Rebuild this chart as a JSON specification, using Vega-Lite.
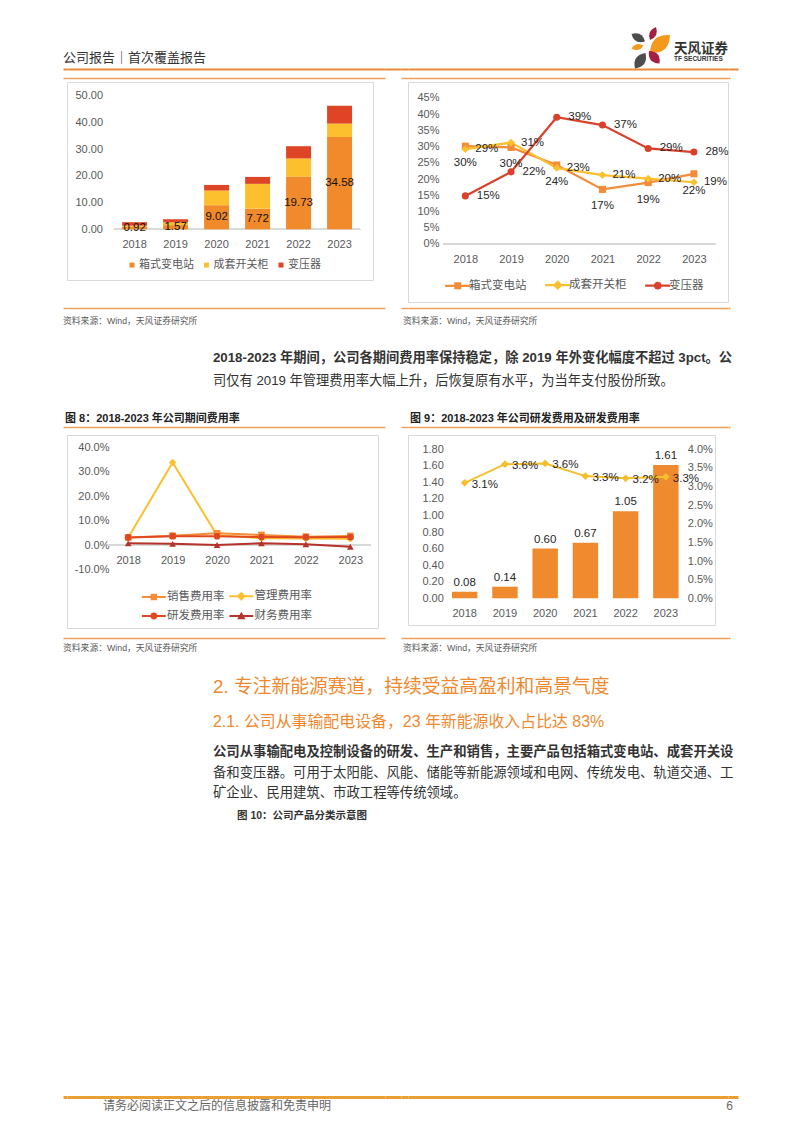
{
"$schema": "https://vega.github.io/schema/vega-lite/v6.json",
"background": "white",
"padding": {"left": 63, "top": 25, "right": 10, "bottom": 10},
"autosize": {"type": "pad"},
"config": {
 "font": "Liberation Sans, Noto Sans CJK SC",
 "locale": {"number": {"decimal": ".", "thousands": ",", "grouping": [3], "currency": ["", ""], "minus": "-"}},
 "view": {"stroke": null},
 "axis": {"grid": false, "ticks": false, "domain": false, "labelOverlap": false, "labelColor": "#595959", "labelFontSize": 11, "labelFont": "Liberation Sans, Noto Sans CJK SC"},
 "legend": {"labelColor": "#595959", "labelFontSize": 11, "labelFont": "Liberation Sans, Noto Sans CJK SC", "padding": 0},
 "title": {"anchor": "start", "frame": "group", "font": "Liberation Sans, Noto Sans CJK SC", "subtitleFont": "Liberation Sans, Noto Sans CJK SC", "color": "#333333", "subtitleColor": "#333333", "fontWeight": "normal", "subtitleFontWeight": "normal", "offset": 0}
},
"datasets": {
 "one": [{}],
 "zero": [{"v": 0}],
 "petals": [{"p": "p1"}, {"p": "p2"}, {"p": "p3"}, {"p": "p4"}, {"p": "p5"}, {"p": "p6"}],
 "c1": [
  {"year": "2018", "type": "箱式变电站", "v": 0.92, "k": 1}, {"year": "2018", "type": "成套开关柜", "v": 0.45, "k": 2}, {"year": "2018", "type": "变压器", "v": 1.3, "k": 3},
  {"year": "2019", "type": "箱式变电站", "v": 1.57, "k": 1}, {"year": "2019", "type": "成套开关柜", "v": 1.0, "k": 2}, {"year": "2019", "type": "变压器", "v": 1.2, "k": 3},
  {"year": "2020", "type": "箱式变电站", "v": 9.02, "k": 1}, {"year": "2020", "type": "成套开关柜", "v": 5.5, "k": 2}, {"year": "2020", "type": "变压器", "v": 2.1, "k": 3},
  {"year": "2021", "type": "箱式变电站", "v": 7.72, "k": 1}, {"year": "2021", "type": "成套开关柜", "v": 9.3, "k": 2}, {"year": "2021", "type": "变压器", "v": 2.6, "k": 3},
  {"year": "2022", "type": "箱式变电站", "v": 19.73, "k": 1}, {"year": "2022", "type": "成套开关柜", "v": 6.8, "k": 2}, {"year": "2022", "type": "变压器", "v": 4.6, "k": 3},
  {"year": "2023", "type": "箱式变电站", "v": 34.58, "k": 1}, {"year": "2023", "type": "成套开关柜", "v": 5.0, "k": 2}, {"year": "2023", "type": "变压器", "v": 6.7, "k": 3}
 ],
 "c2": [
  {"year": "2018", "s": "箱式变电站", "v": 0.301}, {"year": "2019", "s": "箱式变电站", "v": 0.297}, {"year": "2020", "s": "箱式变电站", "v": 0.243}, {"year": "2021", "s": "箱式变电站", "v": 0.168}, {"year": "2022", "s": "箱式变电站", "v": 0.189}, {"year": "2023", "s": "箱式变电站", "v": 0.216},
  {"year": "2018", "s": "成套开关柜", "v": 0.292}, {"year": "2019", "s": "成套开关柜", "v": 0.312}, {"year": "2020", "s": "成套开关柜", "v": 0.234}, {"year": "2021", "s": "成套开关柜", "v": 0.212}, {"year": "2022", "s": "成套开关柜", "v": 0.201}, {"year": "2023", "s": "成套开关柜", "v": 0.19},
  {"year": "2018", "s": "变压器", "v": 0.148}, {"year": "2019", "s": "变压器", "v": 0.222}, {"year": "2020", "s": "变压器", "v": 0.39}, {"year": "2021", "s": "变压器", "v": 0.366}, {"year": "2022", "s": "变压器", "v": 0.294}, {"year": "2023", "s": "变压器", "v": 0.283}
 ],
 "c3": [
  {"year": "2018", "s": "销售费用率", "v": 0.031}, {"year": "2019", "s": "销售费用率", "v": 0.038}, {"year": "2020", "s": "销售费用率", "v": 0.048}, {"year": "2021", "s": "销售费用率", "v": 0.041}, {"year": "2022", "s": "销售费用率", "v": 0.034}, {"year": "2023", "s": "销售费用率", "v": 0.037},
  {"year": "2018", "s": "管理费用率", "v": 0.030}, {"year": "2019", "s": "管理费用率", "v": 0.338}, {"year": "2020", "s": "管理费用率", "v": 0.040}, {"year": "2021", "s": "管理费用率", "v": 0.028}, {"year": "2022", "s": "管理费用率", "v": 0.027}, {"year": "2023", "s": "管理费用率", "v": 0.026},
  {"year": "2018", "s": "研发费用率", "v": 0.031}, {"year": "2019", "s": "研发费用率", "v": 0.036}, {"year": "2020", "s": "研发费用率", "v": 0.0362}, {"year": "2021", "s": "研发费用率", "v": 0.0328}, {"year": "2022", "s": "研发费用率", "v": 0.0322}, {"year": "2023", "s": "研发费用率", "v": 0.0326},
  {"year": "2018", "s": "财务费用率", "v": 0.007}, {"year": "2019", "s": "财务费用率", "v": 0.005}, {"year": "2020", "s": "财务费用率", "v": 0.0}, {"year": "2021", "s": "财务费用率", "v": 0.007}, {"year": "2022", "s": "财务费用率", "v": 0.003}, {"year": "2023", "s": "财务费用率", "v": -0.007}
 ],
 "c4": [
  {"year": "2018", "amt": 0.08, "rate": 0.031}, {"year": "2019", "amt": 0.14, "rate": 0.036}, {"year": "2020", "amt": 0.60, "rate": 0.0362},
  {"year": "2021", "amt": 0.67, "rate": 0.0328}, {"year": "2022", "amt": 1.05, "rate": 0.0322}, {"year": "2023", "amt": 1.61, "rate": 0.0326}
 ]
},
"columns": 6,
"spacing": 0,
"bounds": "flush",
"align": "each",
"resolve": {"scale": {"color": "independent", "shape": "independent", "size": "independent"}, "legend": {"color": "independent", "shape": "independent", "size": "independent"}},
"concat": [
 {"width": 4, "height": 44, "data": {"name": "zero"}, "mark": {"type": "point", "size": 0, "opacity": 0, "filled": true, "strokeWidth": 0},
  "encoding": {"x": {"field": "v", "type": "quantitative", "scale": {"domain": [0, 1]}, "axis": {"orient": "bottom", "domain": true, "domainColor": "#E9893A", "domainWidth": 2, "labels": false, "ticks": false, "grid": false, "title": null}}},
  "title": {"text": "公司报告｜首次覆盖报告", "fontSize": 13, "color": "#333333", "offset": -39.7}},
 {"width": 318, "height": 44, "data": {"name": "zero"}, "mark": {"type": "point", "size": 0, "opacity": 0, "filled": true, "strokeWidth": 0},
  "encoding": {"x": {"field": "v", "type": "quantitative", "scale": {"domain": [0, 1]}, "axis": {"orient": "bottom", "domain": true, "domainColor": "#E9893A", "domainWidth": 2, "labels": false, "ticks": false, "grid": false, "title": null}}}},
 {"width": 16, "height": 44, "data": {"name": "zero"}, "mark": {"type": "point", "size": 0, "opacity": 0, "filled": true, "strokeWidth": 0},
  "encoding": {"x": {"field": "v", "type": "quantitative", "scale": {"domain": [0, 1]}, "axis": {"orient": "bottom", "domain": true, "domainColor": "#E9893A", "domainWidth": 2, "labels": false, "ticks": false, "grid": false, "title": null}}}},
 {"width": 7, "height": 44, "data": {"name": "zero"}, "mark": {"type": "point", "size": 0, "opacity": 0, "filled": true, "strokeWidth": 0},
  "encoding": {"x": {"field": "v", "type": "quantitative", "scale": {"domain": [0, 1]}, "axis": {"orient": "bottom", "domain": true, "domainColor": "#E9893A", "domainWidth": 2, "labels": false, "ticks": false, "grid": false, "title": null}}}},
 {"width": 320, "height": 44,
  "title": {"text": "天风证券", "subtitle": "TF SECURITIES", "fontSize": 13.5, "fontWeight": "bold", "color": "#333333", "subtitleFontSize": 6.5, "subtitleFontWeight": "bold", "subtitleColor": "#333333", "subtitlePadding": 1.4, "offset": -37.9, "dx": 266},
  "layer": [
  {"data": {"name": "zero"}, "mark": {"type": "point", "size": 0, "opacity": 0, "filled": true, "strokeWidth": 0},
   "encoding": {"x": {"field": "v", "type": "quantitative", "scale": {"domain": [0, 1]}, "axis": {"orient": "bottom", "domain": true, "domainColor": "#E9893A", "domainWidth": 2, "labels": false, "ticks": false, "grid": false, "title": null}}}},
  {"data": {"name": "petals"}, "mark": {"type": "point", "filled": true, "opacity": 1, "size": 1764, "strokeWidth": 0, "xOffset": 83},
   "encoding": {
    "shape": {"field": "p", "type": "nominal", "legend": null, "scale": {"domain": ["p1", "p2", "p3", "p4", "p5", "p6"], "range": [
     "M-0.048,-0.333Q0.398,-0.503 0.238,-0.952Q-0.208,-0.782 -0.048,-0.333Z",
     "M-0.929,-0.619Q-0.792,-0.108 -0.286,-0.262Q-0.422,-0.773 -0.929,-0.619Z",
     "M-0.048,0.286Q0.875,0.352 0.905,-0.571Q-0.018,-0.638 -0.048,0.286Z",
     "M-0.929,0.071Q-0.573,0.277 -0.357,-0.071Q-0.712,-0.277 -0.929,0.071Z",
     "M-0.095,0.19Q-0.173,0.764 0.405,0.786Q0.483,0.212 -0.095,0.19Z",
     "M-0.262,0.286Q-0.906,0.388 -0.762,1.024Q-0.118,0.922 -0.262,0.286Z"]}},
    "color": {"field": "p", "type": "nominal", "legend": null, "scale": {"domain": ["p1", "p2", "p3", "p4", "p5", "p6"], "range": ["#A61E44", "#4D4D4F", "#F39A1E", "#F39A1E", "#A61E44", "#4D4D4F"]}}
   }}
 ]},
 {"width": 10, "height": 44, "data": {"name": "zero"}, "mark": {"type": "point", "size": 0, "opacity": 0, "filled": true, "strokeWidth": 0},
  "encoding": {"x": {"field": "v", "type": "quantitative", "scale": {"domain": [0, 1]}, "axis": {"orient": "bottom", "domain": true, "domainColor": "#E9893A", "domainWidth": 2, "labels": false, "ticks": false, "grid": false, "title": null}}}},

 {"width": 1, "height": 9, "data": {"name": "one"}, "mark": {"type": "point", "size": 0, "opacity": 0, "filled": true, "strokeWidth": 0}},
 {"width": 1, "height": 1, "data": {"name": "one"}, "mark": {"type": "point", "size": 0, "opacity": 0, "filled": true, "strokeWidth": 0}},
 {"width": 1, "height": 1, "data": {"name": "one"}, "mark": {"type": "point", "size": 0, "opacity": 0, "filled": true, "strokeWidth": 0}},
 {"width": 1, "height": 1, "data": {"name": "one"}, "mark": {"type": "point", "size": 0, "opacity": 0, "filled": true, "strokeWidth": 0}},
 {"width": 1, "height": 1, "data": {"name": "one"}, "mark": {"type": "point", "size": 0, "opacity": 0, "filled": true, "strokeWidth": 0}},
 {"width": 1, "height": 1, "data": {"name": "one"}, "mark": {"type": "point", "size": 0, "opacity": 0, "filled": true, "strokeWidth": 0}},

 {"width": 4, "height": 4, "data": {"name": "zero"}, "mark": {"type": "point", "size": 0, "opacity": 0, "filled": true, "strokeWidth": 0},
  "encoding": {"x": {"field": "v", "type": "quantitative", "scale": {"domain": [0, 1]}, "axis": {"orient": "top", "domain": true, "domainColor": "#F0A05A", "domainWidth": 1.5, "labels": false, "ticks": false, "grid": false, "title": null}}}},
 {"width": 318, "height": 4, "data": {"name": "zero"}, "mark": {"type": "point", "size": 0, "opacity": 0, "filled": true, "strokeWidth": 0},
  "encoding": {"x": {"field": "v", "type": "quantitative", "scale": {"domain": [0, 1]}, "axis": {"orient": "top", "domain": true, "domainColor": "#F0A05A", "domainWidth": 1.5, "labels": false, "ticks": false, "grid": false, "title": null}}}},
 {"width": 1, "height": 1, "data": {"name": "one"}, "mark": {"type": "point", "size": 0, "opacity": 0, "filled": true, "strokeWidth": 0}},
 {"width": 7, "height": 4, "data": {"name": "zero"}, "mark": {"type": "point", "size": 0, "opacity": 0, "filled": true, "strokeWidth": 0},
  "encoding": {"x": {"field": "v", "type": "quantitative", "scale": {"domain": [0, 1]}, "axis": {"orient": "top", "domain": true, "domainColor": "#F0A05A", "domainWidth": 1.5, "labels": false, "ticks": false, "grid": false, "title": null}}}},
 {"width": 320, "height": 4, "data": {"name": "zero"}, "mark": {"type": "point", "size": 0, "opacity": 0, "filled": true, "strokeWidth": 0},
  "encoding": {"x": {"field": "v", "type": "quantitative", "scale": {"domain": [0, 1]}, "axis": {"orient": "top", "domain": true, "domainColor": "#F0A05A", "domainWidth": 1.5, "labels": false, "ticks": false, "grid": false, "title": null}}}},
 {"width": 2, "height": 4, "data": {"name": "zero"}, "mark": {"type": "point", "size": 0, "opacity": 0, "filled": true, "strokeWidth": 0},
  "encoding": {"x": {"field": "v", "type": "quantitative", "scale": {"domain": [0, 1]}, "axis": {"orient": "top", "domain": true, "domainColor": "#F0A05A", "domainWidth": 1.5, "labels": false, "ticks": false, "grid": false, "title": null}}}},

 {"width": 1, "height": 1, "data": {"name": "one"}, "mark": {"type": "point", "size": 0, "opacity": 0, "filled": true, "strokeWidth": 0}},
 {"width": 306, "height": 198, "view": {"stroke": "#D9D9D9", "strokeWidth": 1}, "data": {"name": "c1"},
  "layer": [
   {"mark": {"type": "rule", "color": "#D9D9D9", "strokeWidth": 1, "xOffset": -20.5, "x2Offset": 20.5},
    "encoding": {
     "x": {"datum": "2018", "type": "ordinal", "title": null, "axis": {"orient": "bottom", "offset": -50.7, "labelPadding": 9, "labelAngle": 0, "title": null}},
     "x2": {"datum": "2023"},
     "y": {"datum": 0, "type": "quantitative", "title": null, "axis": {"values": [0, 10, 20, 30, 40, 50], "format": ".2f", "offset": -38.5, "labelPadding": 3, "title": null}}}},
   {"mark": {"type": "bar"},
    "encoding": {
     "x": {"field": "year", "type": "ordinal", "title": null, "scale": {"type": "band", "paddingInner": 0.39, "paddingOuter": 0.927, "align": 0.725}, "axis": {"orient": "bottom", "offset": -50.7, "labelPadding": 9, "labelAngle": 0, "title": null}},
     "y": {"field": "v", "type": "quantitative", "stack": "zero", "title": null, "scale": {"domain": [-18.99, 55.17], "nice": false, "zero": false}, "axis": {"values": [0, 10, 20, 30, 40, 50], "format": ".2f", "offset": -38.5, "labelPadding": 3, "title": null}},
     "color": {"field": "type", "type": "nominal", "scale": {"domain": ["箱式变电站", "成套开关柜", "变压器"], "range": ["#F08A2B", "#FCC02F", "#DD4526"]},
      "legend": {"title": null, "orient": "none", "legendX": 59.5, "legendY": 177.3, "direction": "horizontal", "symbolType": "square", "symbolSize": 25, "labelOffset": 1.6, "columnPadding": 6.5, "labelFontSize": 11}},
     "order": {"field": "k", "type": "quantitative"}
    }},
   {"transform": [{"filter": "datum.type === '箱式变电站'"}],
    "mark": {"type": "text", "fontSize": 11.5, "color": "#111111"},
    "encoding": {
     "x": {"field": "year", "type": "ordinal", "title": null, "axis": {"orient": "bottom", "offset": -50.7, "labelPadding": 9, "labelAngle": 0, "title": null}},
     "y": {"field": "v", "type": "quantitative", "stack": "zero", "bandPosition": 0.5, "title": null, "axis": {"values": [0, 10, 20, 30, 40, 50], "format": ".2f", "offset": -38.5, "labelPadding": 3, "title": null}},
     "detail": {"field": "type", "type": "nominal"},
     "text": {"field": "v", "type": "quantitative", "format": ".2f"}
    }}
  ]},
 {"width": 1, "height": 1, "data": {"name": "one"}, "mark": {"type": "point", "size": 0, "opacity": 0, "filled": true, "strokeWidth": 0}},
 {"width": 1, "height": 1, "data": {"name": "one"}, "mark": {"type": "point", "size": 0, "opacity": 0, "filled": true, "strokeWidth": 0}},
 {"width": 320, "height": 220, "view": {"stroke": "#D9D9D9", "strokeWidth": 1}, "data": {"name": "c2"},
  "encoding": {
   "x": {"field": "year", "type": "ordinal", "title": null, "scale": {"type": "point", "padding": 1.1364, "align": 0.627}, "axis": {"offset": -58, "labelPadding": 9, "labelAngle": 0, "title": null}},
   "y": {"field": "v", "type": "quantitative", "title": null, "scale": {"domain": [-0.1785, 0.4985], "nice": false, "zero": false}, "axis": {"values": [0, 0.05, 0.1, 0.15, 0.2, 0.25, 0.3, 0.35, 0.4, 0.45], "format": ".0%", "offset": -34, "labelPadding": 3, "title": null}}
  },
  "layer": [
   {"mark": {"type": "rule", "color": "#D9D9D9", "strokeWidth": 1, "xOffset": -22, "x2Offset": 22},
    "encoding": {"x": {"datum": "2018", "type": "ordinal", "title": null}, "x2": {"datum": "2023"}, "y": {"datum": 0, "type": "quantitative", "title": null}}},
   {"transform": [{"filter": "datum.s === '箱式变电站'"}], "mark": {"type": "line", "color": "#F28C38", "strokeWidth": 2.25}},
   {"transform": [{"filter": "datum.s === '成套开关柜'"}], "mark": {"type": "line", "color": "#FBC02D", "strokeWidth": 2.25}},
   {"transform": [{"filter": "datum.s === '变压器'"}], "mark": {"type": "line", "color": "#D9412B", "strokeWidth": 2.25}},
   {"transform": [{"filter": "datum.s === '箱式变电站'"}], "mark": {"type": "point", "shape": "square", "filled": true, "color": "#F28C38", "size": 50, "opacity": 1}},
   {"transform": [{"filter": "datum.s === '成套开关柜'"}], "mark": {"type": "point", "shape": "diamond", "filled": true, "color": "#FBC02D", "size": 60, "opacity": 1}},
   {"transform": [{"filter": "datum.s === '变压器'"}], "mark": {"type": "point", "shape": "circle", "filled": true, "color": "#D9412B", "size": 50, "opacity": 1}},
   {"mark": {"type": "point", "filled": true, "opacity": 0},
    "encoding": {
     "color": {"field": "s", "type": "nominal", "scale": {"domain": ["箱式变电站", "成套开关柜", "变压器"], "range": ["#F28C38", "#FBC02D", "#D9412B"]},
      "legend": {"title": null, "orient": "none", "legendX": 44, "legendY": 197.2, "direction": "horizontal", "symbolSize": 49, "symbolOpacity": 1, "labelOffset": 5.5, "columnPadding": 15, "labelFontSize": 11.5}},
     "shape": {"field": "s", "type": "nominal", "scale": {"domain": ["箱式变电站", "成套开关柜", "变压器"], "range": [
       "M-3.6,-0.3H3.6V0.3H-3.6ZM-1,-1H1V1H-1Z",
       "M-3.6,-0.3H3.6V0.3H-3.6ZM0,-1.4L1.4,0L0,1.4L-1.4,0Z",
       "M-3.6,-0.3H3.6V0.3H-3.6ZM-1.1,0C-1.1,-1.47 1.1,-1.47 1.1,0C1.1,1.47 -1.1,1.47 -1.1,0Z"]},
      "legend": {"title": null, "orient": "none", "legendX": 44, "legendY": 197.2, "direction": "horizontal", "symbolSize": 49, "symbolOpacity": 1, "labelOffset": 5.5, "columnPadding": 15, "labelFontSize": 11.5}}
    }},
   {"transform": [{"filter": "datum.s === '箱式变电站'"}], "mark": {"type": "text", "dy": 17, "fontSize": 11.5, "color": "#262626"}, "encoding": {"text": {"field": "v", "type": "quantitative", "format": ".0%"}}},
   {"transform": [{"filter": "datum.s === '成套开关柜'"}], "mark": {"type": "text", "align": "left", "dx": 10, "fontSize": 11.5, "color": "#262626"}, "encoding": {"text": {"field": "v", "type": "quantitative", "format": ".0%"}}},
   {"transform": [{"filter": "datum.s === '变压器'"}], "mark": {"type": "text", "align": "left", "dx": 11.5, "fontSize": 11.5, "color": "#262626"}, "encoding": {"text": {"field": "v", "type": "quantitative", "format": ".0%"}}}
  ]},
 {"width": 1, "height": 1, "data": {"name": "one"}, "mark": {"type": "point", "size": 0, "opacity": 0, "filled": true, "strokeWidth": 0}},

 {"width": 4, "height": 6, "data": {"name": "zero"}, "mark": {"type": "point", "size": 0, "opacity": 0, "filled": true, "strokeWidth": 0},
  "encoding": {"x": {"field": "v", "type": "quantitative", "scale": {"domain": [0, 1]}, "axis": {"orient": "bottom", "domain": true, "domainColor": "#F0A05A", "domainWidth": 1.5, "labels": false, "ticks": false, "grid": false, "title": null}}},
  "title": {"text": "资料来源：Wind，天风证券研究所", "orient": "bottom", "fontSize": 8.8, "color": "#595959", "offset": 8.6}},
 {"width": 318, "height": 6, "data": {"name": "zero"}, "mark": {"type": "point", "size": 0, "opacity": 0, "filled": true, "strokeWidth": 0},
  "encoding": {"x": {"field": "v", "type": "quantitative", "scale": {"domain": [0, 1]}, "axis": {"orient": "bottom", "domain": true, "domainColor": "#F0A05A", "domainWidth": 1.5, "labels": false, "ticks": false, "grid": false, "title": null}}}},
 {"width": 1, "height": 1, "data": {"name": "one"}, "mark": {"type": "point", "size": 0, "opacity": 0, "filled": true, "strokeWidth": 0}},
 {"width": 7, "height": 6, "data": {"name": "zero"}, "mark": {"type": "point", "size": 0, "opacity": 0, "filled": true, "strokeWidth": 0},
  "encoding": {"x": {"field": "v", "type": "quantitative", "scale": {"domain": [0, 1]}, "axis": {"orient": "bottom", "domain": true, "domainColor": "#F0A05A", "domainWidth": 1.5, "labels": false, "ticks": false, "grid": false, "title": null}}},
  "title": {"text": "资料来源：Wind，天风证券研究所", "orient": "bottom", "fontSize": 8.8, "color": "#595959", "offset": 8.6, "dx": 2}},
 {"width": 320, "height": 6, "data": {"name": "zero"}, "mark": {"type": "point", "size": 0, "opacity": 0, "filled": true, "strokeWidth": 0},
  "encoding": {"x": {"field": "v", "type": "quantitative", "scale": {"domain": [0, 1]}, "axis": {"orient": "bottom", "domain": true, "domainColor": "#F0A05A", "domainWidth": 1.5, "labels": false, "ticks": false, "grid": false, "title": null}}}},
 {"width": 2, "height": 6, "data": {"name": "zero"}, "mark": {"type": "point", "size": 0, "opacity": 0, "filled": true, "strokeWidth": 0},
  "encoding": {"x": {"field": "v", "type": "quantitative", "scale": {"domain": [0, 1]}, "axis": {"orient": "bottom", "domain": true, "domainColor": "#F0A05A", "domainWidth": 1.5, "labels": false, "ticks": false, "grid": false, "title": null}}}},

 {"width": 1, "height": 84, "data": {"name": "one"}, "mark": {"type": "point", "size": 0, "opacity": 0, "filled": true, "strokeWidth": 0}},
 {"width": 1, "height": 1, "data": {"name": "one"}, "mark": {"type": "point", "size": 0, "opacity": 0, "filled": true, "strokeWidth": 0}},
 {"width": 1, "height": 1, "data": {"name": "one"}, "mark": {"type": "point", "size": 0, "opacity": 0, "filled": true, "strokeWidth": 0}},
 {"width": 1, "height": 1, "data": {"name": "one"}, "mark": {"type": "point", "size": 0, "opacity": 0, "filled": true, "strokeWidth": 0}},
 {"width": 1, "height": 1, "data": {"name": "one"}, "mark": {"type": "point", "size": 0, "opacity": 0, "filled": true, "strokeWidth": 0}},
 {"width": 1, "height": 1, "data": {"name": "one"}, "mark": {"type": "point", "size": 0, "opacity": 0, "filled": true, "strokeWidth": 0}},

 {"width": 1, "height": 35, "data": {"name": "one"}, "mark": {"type": "point", "size": 0, "opacity": 0, "filled": true, "strokeWidth": 0},
  "title": {"text": "2018-2023 年期间，公司各期间费用率保持稳定，除 2019 年外变化幅度不超过 3pct。公", "fontWeight": "bold", "fontSize": 13.25, "color": "#333333",
   "subtitle": "司仅有 2019 年管理费用率大幅上升，后恢复原有水平，为当年支付股份所致。", "subtitleFontSize": 13.25, "subtitleColor": "#333333", "subtitlePadding": 9.25, "offset": 4.18, "dx": 150}},
 {"width": 1, "height": 1, "data": {"name": "one"}, "mark": {"type": "point", "size": 0, "opacity": 0, "filled": true, "strokeWidth": 0}},
 {"width": 1, "height": 1, "data": {"name": "one"}, "mark": {"type": "point", "size": 0, "opacity": 0, "filled": true, "strokeWidth": 0}},
 {"width": 1, "height": 1, "data": {"name": "one"}, "mark": {"type": "point", "size": 0, "opacity": 0, "filled": true, "strokeWidth": 0}},
 {"width": 1, "height": 1, "data": {"name": "one"}, "mark": {"type": "point", "size": 0, "opacity": 0, "filled": true, "strokeWidth": 0}},
 {"width": 1, "height": 1, "data": {"name": "one"}, "mark": {"type": "point", "size": 0, "opacity": 0, "filled": true, "strokeWidth": 0}},

 {"width": 4, "height": 8, "data": {"name": "zero"}, "mark": {"type": "point", "size": 0, "opacity": 0, "filled": true, "strokeWidth": 0},
  "encoding": {"x": {"field": "v", "type": "quantitative", "scale": {"domain": [0, 1]}, "axis": {"orient": "top", "domain": true, "domainColor": "#F0A05A", "domainWidth": 1.5, "labels": false, "ticks": false, "grid": false, "title": null}}},
  "title": {"text": "图 8：2018-2023 年公司期间费用率", "fontSize": 11, "fontWeight": "bold", "color": "#222222", "offset": 3.05, "dx": 2}},
 {"width": 318, "height": 8, "data": {"name": "zero"}, "mark": {"type": "point", "size": 0, "opacity": 0, "filled": true, "strokeWidth": 0},
  "encoding": {"x": {"field": "v", "type": "quantitative", "scale": {"domain": [0, 1]}, "axis": {"orient": "top", "domain": true, "domainColor": "#F0A05A", "domainWidth": 1.5, "labels": false, "ticks": false, "grid": false, "title": null}}}},
 {"width": 1, "height": 1, "data": {"name": "one"}, "mark": {"type": "point", "size": 0, "opacity": 0, "filled": true, "strokeWidth": 0}},
 {"width": 7, "height": 8, "data": {"name": "zero"}, "mark": {"type": "point", "size": 0, "opacity": 0, "filled": true, "strokeWidth": 0},
  "encoding": {"x": {"field": "v", "type": "quantitative", "scale": {"domain": [0, 1]}, "axis": {"orient": "top", "domain": true, "domainColor": "#F0A05A", "domainWidth": 1.5, "labels": false, "ticks": false, "grid": false, "title": null}}},
  "title": {"text": "图 9：2018-2023 年公司研发费用及研发费用率", "fontSize": 11, "fontWeight": "bold", "color": "#222222", "offset": 3.05, "dx": 9}},
 {"width": 320, "height": 8, "data": {"name": "zero"}, "mark": {"type": "point", "size": 0, "opacity": 0, "filled": true, "strokeWidth": 0},
  "encoding": {"x": {"field": "v", "type": "quantitative", "scale": {"domain": [0, 1]}, "axis": {"orient": "top", "domain": true, "domainColor": "#F0A05A", "domainWidth": 1.5, "labels": false, "ticks": false, "grid": false, "title": null}}}},
 {"width": 2, "height": 8, "data": {"name": "zero"}, "mark": {"type": "point", "size": 0, "opacity": 0, "filled": true, "strokeWidth": 0},
  "encoding": {"x": {"field": "v", "type": "quantitative", "scale": {"domain": [0, 1]}, "axis": {"orient": "top", "domain": true, "domainColor": "#F0A05A", "domainWidth": 1.5, "labels": false, "ticks": false, "grid": false, "title": null}}}},

 {"width": 1, "height": 1, "data": {"name": "one"}, "mark": {"type": "point", "size": 0, "opacity": 0, "filled": true, "strokeWidth": 0}},
 {"width": 311, "height": 193, "view": {"stroke": "#D9D9D9", "strokeWidth": 1}, "data": {"name": "c3"},
  "encoding": {
   "x": {"field": "year", "type": "ordinal", "title": null, "scale": {"type": "point", "padding": 1.2927, "align": 0.6887}, "axis": {"offset": -83, "labelPadding": 9.3, "labelAngle": 0, "title": null}},
   "y": {"field": "v", "type": "quantitative", "title": null, "scale": {"domain": [-0.3397, 0.4503], "nice": false, "zero": false}, "axis": {"values": [-0.1, 0, 0.1, 0.2, 0.3, 0.4], "format": ".1%", "offset": -45, "labelPadding": 3, "title": null}}
  },
  "layer": [
   {"mark": {"type": "rule", "color": "#D9D9D9", "strokeWidth": 1, "xOffset": -20.5, "x2Offset": 20.5},
    "encoding": {"x": {"datum": "2018", "type": "ordinal", "title": null}, "x2": {"datum": "2023"}, "y": {"datum": 0, "type": "quantitative", "title": null}}},
   {"transform": [{"filter": "datum.s === '销售费用率'"}], "mark": {"type": "line", "color": "#F28C38", "strokeWidth": 2}},
   {"transform": [{"filter": "datum.s === '管理费用率'"}], "mark": {"type": "line", "color": "#FBC02D", "strokeWidth": 2}},
   {"transform": [{"filter": "datum.s === '研发费用率'"}], "mark": {"type": "line", "color": "#E0481F", "strokeWidth": 2}},
   {"transform": [{"filter": "datum.s === '财务费用率'"}], "mark": {"type": "line", "color": "#B5332A", "strokeWidth": 2}},
   {"transform": [{"filter": "datum.s === '销售费用率'"}], "mark": {"type": "point", "shape": "square", "filled": true, "color": "#F28C38", "size": 45, "opacity": 1}},
   {"transform": [{"filter": "datum.s === '管理费用率'"}], "mark": {"type": "point", "shape": "diamond", "filled": true, "color": "#FBC02D", "size": 55, "opacity": 1}},
   {"transform": [{"filter": "datum.s === '研发费用率'"}], "mark": {"type": "point", "shape": "circle", "filled": true, "color": "#E0481F", "size": 45, "opacity": 1}},
   {"transform": [{"filter": "datum.s === '财务费用率'"}], "mark": {"type": "point", "shape": "triangle-up", "filled": true, "color": "#B5332A", "size": 45, "opacity": 1}},
   {"mark": {"type": "point", "filled": true, "opacity": 0},
    "encoding": {
     "color": {"field": "s", "type": "nominal", "scale": {"domain": ["销售费用率", "管理费用率", "研发费用率", "财务费用率"], "range": ["#F28C38", "#FBC02D", "#E0481F", "#B5332A"]},
      "legend": {"title": null, "orient": "none", "legendX": 81.1, "legendY": 155.2, "direction": "horizontal", "columns": 2, "rowPadding": 4.1, "symbolSize": 49, "symbolOpacity": 1, "labelOffset": 7.4, "columnPadding": 0.5, "labelFontSize": 11.5}},
     "shape": {"field": "s", "type": "nominal", "scale": {"domain": ["销售费用率", "管理费用率", "研发费用率", "财务费用率"], "range": [
       "M-3.4,-0.3H3.4V0.3H-3.4ZM-0.9,-0.9H0.9V0.9H-0.9Z",
       "M-3.4,-0.3H3.4V0.3H-3.4ZM0,-1.3L1.3,0L0,1.3L-1.3,0Z",
       "M-3.4,-0.3H3.4V0.3H-3.4ZM-1,0C-1,-1.33 1,-1.33 1,0C1,1.33 -1,1.33 -1,0Z",
       "M-3.4,-0.3H3.4V0.3H-3.4ZM0,-1.2L1.2,0.9L-1.2,0.9Z"]},
      "legend": {"title": null, "orient": "none", "legendX": 81.1, "legendY": 155.2, "direction": "horizontal", "columns": 2, "rowPadding": 4.1, "symbolSize": 49, "symbolOpacity": 1, "labelOffset": 7.4, "columnPadding": 0.5, "labelFontSize": 11.5}}
    }}
  ]},
 {"width": 1, "height": 1, "data": {"name": "one"}, "mark": {"type": "point", "size": 0, "opacity": 0, "filled": true, "strokeWidth": 0}},
 {"width": 1, "height": 1, "data": {"name": "one"}, "mark": {"type": "point", "size": 0, "opacity": 0, "filled": true, "strokeWidth": 0}},
 {"width": 307, "height": 190, "view": {"stroke": "#D9D9D9", "strokeWidth": 1}, "data": {"name": "c4"},
  "encoding": {"x": {"field": "year", "type": "ordinal", "title": null, "scale": {"type": "band", "paddingInner": 0.368, "paddingOuter": 1.347, "align": 0.547}, "axis": {"offset": -26.7, "labelPadding": 8.7, "labelAngle": 0, "title": null}}},
  "layer": [
   {"encoding": {"y": {"field": "amt", "type": "quantitative", "title": null, "scale": {"domain": [-0.3225, 1.972], "nice": false, "zero": false}, "axis": {"orient": "left", "values": [0, 0.2, 0.4, 0.6, 0.8, 1.0, 1.2, 1.4, 1.6, 1.8], "format": ".2f", "offset": -38.3, "labelPadding": 3, "title": null}}},
    "layer": [
    {"mark": {"type": "bar", "color": "#EF8A2E"}},
    {"mark": {"type": "text", "baseline": "bottom", "dy": -4, "fontSize": 11.5, "color": "#262626"},
     "encoding": {"text": {"field": "amt", "type": "quantitative", "format": ".2f"}}}
   ]},
   {"encoding": {
     "x": {"field": "year", "type": "ordinal", "bandPosition": 0.5, "title": null, "axis": {"offset": -26.7, "labelPadding": 8.7, "labelAngle": 0, "title": null}},
     "y": {"field": "rate", "type": "quantitative", "title": null, "scale": {"domain": [-0.007168, 0.04384], "nice": false, "zero": false}, "axis": {"orient": "right", "values": [0, 0.005, 0.01, 0.015, 0.02, 0.025, 0.03, 0.035, 0.04], "format": ".1%", "offset": -30.7, "labelPadding": 3, "title": null}}},
    "layer": [
    {"mark": {"type": "line", "color": "#F5BE2C", "strokeWidth": 2}},
    {"mark": {"type": "point", "shape": "diamond", "filled": true, "color": "#F5BE2C", "size": 60, "opacity": 1}},
    {"mark": {"type": "text", "align": "left", "dx": 7, "dy": 2, "fontSize": 11.5, "color": "#262626"},
     "encoding": {"text": {"field": "rate", "type": "quantitative", "format": ".1%"}}}
   ]}
  ],
  "resolve": {"scale": {"y": "independent"}}},
 {"width": 1, "height": 1, "data": {"name": "one"}, "mark": {"type": "point", "size": 0, "opacity": 0, "filled": true, "strokeWidth": 0}},

 {"width": 4, "height": 10, "data": {"name": "zero"}, "mark": {"type": "point", "size": 0, "opacity": 0, "filled": true, "strokeWidth": 0},
  "encoding": {"x": {"field": "v", "type": "quantitative", "scale": {"domain": [0, 1]}, "axis": {"orient": "bottom", "domain": true, "domainColor": "#F0A05A", "domainWidth": 1.5, "labels": false, "ticks": false, "grid": false, "title": null}}},
  "title": {"text": "资料来源：Wind，天风证券研究所", "orient": "bottom", "fontSize": 8.8, "color": "#595959", "offset": 5.9}},
 {"width": 318, "height": 10, "data": {"name": "zero"}, "mark": {"type": "point", "size": 0, "opacity": 0, "filled": true, "strokeWidth": 0},
  "encoding": {"x": {"field": "v", "type": "quantitative", "scale": {"domain": [0, 1]}, "axis": {"orient": "bottom", "domain": true, "domainColor": "#F0A05A", "domainWidth": 1.5, "labels": false, "ticks": false, "grid": false, "title": null}}}},
 {"width": 1, "height": 1, "data": {"name": "one"}, "mark": {"type": "point", "size": 0, "opacity": 0, "filled": true, "strokeWidth": 0}},
 {"width": 7, "height": 10, "data": {"name": "zero"}, "mark": {"type": "point", "size": 0, "opacity": 0, "filled": true, "strokeWidth": 0},
  "encoding": {"x": {"field": "v", "type": "quantitative", "scale": {"domain": [0, 1]}, "axis": {"orient": "bottom", "domain": true, "domainColor": "#F0A05A", "domainWidth": 1.5, "labels": false, "ticks": false, "grid": false, "title": null}}},
  "title": {"text": "资料来源：Wind，天风证券研究所", "orient": "bottom", "fontSize": 8.8, "color": "#595959", "offset": 5.9, "dx": 2}},
 {"width": 320, "height": 10, "data": {"name": "zero"}, "mark": {"type": "point", "size": 0, "opacity": 0, "filled": true, "strokeWidth": 0},
  "encoding": {"x": {"field": "v", "type": "quantitative", "scale": {"domain": [0, 1]}, "axis": {"orient": "bottom", "domain": true, "domainColor": "#F0A05A", "domainWidth": 1.5, "labels": false, "ticks": false, "grid": false, "title": null}}}},
 {"width": 2, "height": 10, "data": {"name": "zero"}, "mark": {"type": "point", "size": 0, "opacity": 0, "filled": true, "strokeWidth": 0},
  "encoding": {"x": {"field": "v", "type": "quantitative", "scale": {"domain": [0, 1]}, "axis": {"orient": "bottom", "domain": true, "domainColor": "#F0A05A", "domainWidth": 1.5, "labels": false, "ticks": false, "grid": false, "title": null}}}},

 {"width": 1, "height": 92, "data": {"name": "one"}, "mark": {"type": "point", "size": 0, "opacity": 0, "filled": true, "strokeWidth": 0}},
 {"width": 1, "height": 1, "data": {"name": "one"}, "mark": {"type": "point", "size": 0, "opacity": 0, "filled": true, "strokeWidth": 0}},
 {"width": 1, "height": 1, "data": {"name": "one"}, "mark": {"type": "point", "size": 0, "opacity": 0, "filled": true, "strokeWidth": 0}},
 {"width": 1, "height": 1, "data": {"name": "one"}, "mark": {"type": "point", "size": 0, "opacity": 0, "filled": true, "strokeWidth": 0}},
 {"width": 1, "height": 1, "data": {"name": "one"}, "mark": {"type": "point", "size": 0, "opacity": 0, "filled": true, "strokeWidth": 0}},
 {"width": 1, "height": 1, "data": {"name": "one"}, "mark": {"type": "point", "size": 0, "opacity": 0, "filled": true, "strokeWidth": 0}},

 {"width": 1, "height": 70, "data": {"name": "one"}, "mark": {"type": "point", "size": 0, "opacity": 0, "filled": true, "strokeWidth": 0},
  "title": {"text": "2. 专注新能源赛道，持续受益高盈利和高景气度", "fontSize": 18.8, "color": "#F0892E",
   "subtitle": "2.1. 公司从事输配电设备，23 年新能源收入占比达 83%", "subtitleFontSize": 15.9, "subtitleColor": "#F0892E", "subtitlePadding": 16.4, "offset": 0.6, "dx": 150}},
 {"width": 1, "height": 1, "data": {"name": "one"}, "mark": {"type": "point", "size": 0, "opacity": 0, "filled": true, "strokeWidth": 0}},
 {"width": 1, "height": 1, "data": {"name": "one"}, "mark": {"type": "point", "size": 0, "opacity": 0, "filled": true, "strokeWidth": 0}},
 {"width": 1, "height": 1, "data": {"name": "one"}, "mark": {"type": "point", "size": 0, "opacity": 0, "filled": true, "strokeWidth": 0}},
 {"width": 1, "height": 1, "data": {"name": "one"}, "mark": {"type": "point", "size": 0, "opacity": 0, "filled": true, "strokeWidth": 0}},
 {"width": 1, "height": 1, "data": {"name": "one"}, "mark": {"type": "point", "size": 0, "opacity": 0, "filled": true, "strokeWidth": 0}},

 {"width": 1, "height": 22, "data": {"name": "one"}, "mark": {"type": "point", "size": 0, "opacity": 0, "filled": true, "strokeWidth": 0},
  "title": {"text": "公司从事输配电及控制设备的研发、生产和销售，主要产品包括箱式变电站、成套开关设", "fontWeight": "bold", "fontSize": 13.35, "color": "#333333",
   "subtitle": ["备和变压器。可用于太阳能、风能、储能等新能源领域和电网、传统发电、轨道交通、工", "矿企业、民用建筑、市政工程等传统领域。"], "subtitleFontSize": 13.35, "subtitleColor": "#333333", "subtitleLineHeight": 20, "subtitlePadding": 7.65, "offset": 1.12, "dx": 150}},
 {"width": 1, "height": 1, "data": {"name": "one"}, "mark": {"type": "point", "size": 0, "opacity": 0, "filled": true, "strokeWidth": 0}},
 {"width": 1, "height": 1, "data": {"name": "one"}, "mark": {"type": "point", "size": 0, "opacity": 0, "filled": true, "strokeWidth": 0}},
 {"width": 1, "height": 1, "data": {"name": "one"}, "mark": {"type": "point", "size": 0, "opacity": 0, "filled": true, "strokeWidth": 0}},
 {"width": 1, "height": 1, "data": {"name": "one"}, "mark": {"type": "point", "size": 0, "opacity": 0, "filled": true, "strokeWidth": 0}},
 {"width": 1, "height": 1, "data": {"name": "one"}, "mark": {"type": "point", "size": 0, "opacity": 0, "filled": true, "strokeWidth": 0}},

 {"width": 4, "height": 275, "data": {"name": "zero"}, "mark": {"type": "point", "size": 0, "opacity": 0, "filled": true, "strokeWidth": 0},
  "encoding": {"x": {"field": "v", "type": "quantitative", "scale": {"domain": [0, 1]}, "axis": {"orient": "bottom", "domain": true, "domainColor": "#E8A033", "domainWidth": 3, "labels": false, "ticks": false, "grid": false, "title": null}}},
  "title": {"text": "图 10：公司产品分类示意图", "fontSize": 10.5, "fontWeight": "bold", "color": "#333333", "offset": 0.8, "dx": 174}},
 {"width": 318, "height": 275, "data": {"name": "zero"}, "mark": {"type": "point", "size": 0, "opacity": 0, "filled": true, "strokeWidth": 0},
  "encoding": {"x": {"field": "v", "type": "quantitative", "scale": {"domain": [0, 1]}, "axis": {"orient": "bottom", "domain": true, "domainColor": "#E8A033", "domainWidth": 3, "labels": false, "ticks": false, "grid": false, "title": null}}}},
 {"width": 16, "height": 275, "data": {"name": "zero"}, "mark": {"type": "point", "size": 0, "opacity": 0, "filled": true, "strokeWidth": 0},
  "encoding": {"x": {"field": "v", "type": "quantitative", "scale": {"domain": [0, 1]}, "axis": {"orient": "bottom", "domain": true, "domainColor": "#E8A033", "domainWidth": 3, "labels": false, "ticks": false, "grid": false, "title": null}}}},
 {"width": 7, "height": 275, "data": {"name": "zero"}, "mark": {"type": "point", "size": 0, "opacity": 0, "filled": true, "strokeWidth": 0},
  "encoding": {"x": {"field": "v", "type": "quantitative", "scale": {"domain": [0, 1]}, "axis": {"orient": "bottom", "domain": true, "domainColor": "#E8A033", "domainWidth": 3, "labels": false, "ticks": false, "grid": false, "title": null}}}},
 {"width": 320, "height": 275, "data": {"name": "zero"}, "mark": {"type": "point", "size": 0, "opacity": 0, "filled": true, "strokeWidth": 0},
  "encoding": {"x": {"field": "v", "type": "quantitative", "scale": {"domain": [0, 1]}, "axis": {"orient": "bottom", "domain": true, "domainColor": "#E8A033", "domainWidth": 3, "labels": false, "ticks": false, "grid": false, "title": null}}}},
 {"width": 10, "height": 275, "data": {"name": "zero"}, "mark": {"type": "point", "size": 0, "opacity": 0, "filled": true, "strokeWidth": 0},
  "encoding": {"x": {"field": "v", "type": "quantitative", "scale": {"domain": [0, 1]}, "axis": {"orient": "bottom", "domain": true, "domainColor": "#E8A033", "domainWidth": 3, "labels": false, "ticks": false, "grid": false, "title": null}}}},

 {"width": 1, "height": 2, "data": {"name": "one"}, "mark": {"type": "point", "size": 0, "opacity": 0, "filled": true, "strokeWidth": 0},
  "title": {"text": "请务必阅读正文之后的信息披露和免责申明", "orient": "bottom", "fontSize": 12, "color": "#666666", "offset": 2.1, "dx": 40}},
 {"width": 1, "height": 1, "data": {"name": "one"}, "mark": {"type": "point", "size": 0, "opacity": 0, "filled": true, "strokeWidth": 0}},
 {"width": 1, "height": 1, "data": {"name": "one"}, "mark": {"type": "point", "size": 0, "opacity": 0, "filled": true, "strokeWidth": 0}},
 {"width": 1, "height": 1, "data": {"name": "one"}, "mark": {"type": "point", "size": 0, "opacity": 0, "filled": true, "strokeWidth": 0}},
 {"width": 1, "height": 1, "data": {"name": "one"}, "mark": {"type": "point", "size": 0, "opacity": 0, "filled": true, "strokeWidth": 0}},
 {"width": 10, "height": 2, "data": {"name": "one"}, "mark": {"type": "point", "size": 0, "opacity": 0, "filled": true, "strokeWidth": 0},
  "title": {"text": "6", "orient": "bottom", "anchor": "end", "fontSize": 12, "color": "#666666", "offset": 1.8, "dx": -5}}
]
}
